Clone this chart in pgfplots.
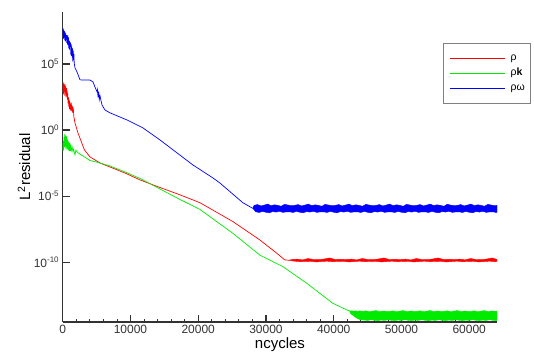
\documentclass[border=0pt]{standalone}
\usepackage{fontspec}
\setmainfont{Liberation Sans}
\usepackage{pgfplots}
\pgfplotsset{compat=1.18}
\definecolor{cred}{RGB}{255,0,0}
\definecolor{cgreen}{RGB}{0,235,0}
\definecolor{cblue}{RGB}{0,0,255}
\begin{document}
\begin{tikzpicture}
\path[use as bounding box] (0,0) rectangle (534pt,352pt);
\begin{axis}[
  at={(62.7pt,30pt)}, anchor=south west,
  scale only axis, width=434.5pt, height=310pt,
  xmin=0, xmax=64130,
  ymode=log, ymin=3.0e-15, ymax=8.5e8,
  axis x line*=bottom, axis y line*=left,
  axis line style={-, line width=1.4pt, black!80},
  tick align=inside,
  major tick length=7pt, minor tick length=3.5pt,
  every major tick/.style={black!80, line width=1.2pt},
  every minor tick/.style={black!80, line width=0.8pt},
  scaled x ticks=false,
  xtick={0,10000,20000,30000,40000,50000,60000},
  xticklabels={0,10000,20000,30000,40000,50000,60000},
  minor x tick num=4,
  ytick={1e-10,1e-5,1,1e5},
  yticklabels={10\textsuperscript{-10},10\textsuperscript{-5},10\textsuperscript{0},10\textsuperscript{5}},
  yminorticks=false,
  ticklabel style={font=\fontsize{12}{14}\selectfont, text=black!80},
  xlabel={ncycles}, ylabel={L\textsuperscript{2}residual},
  label style={font=\fontsize{15}{18}\selectfont},
  x label style={at={(axis description cs:0.5,-0.072)}, anchor=center},
  y label style={at={(axis description cs:-0.089,0.5)}, anchor=center},
  legend style={at={(0.8746,0.9)}, anchor=north west, draw=black!50, line width=1pt, fill=white,
    font=\fontsize{10.5}{12}\selectfont, inner xsep=6pt, inner ysep=10.5pt, row sep=5.5pt,
    cells={anchor=west}, nodes={inner sep=0pt, text height=7pt, text depth=2.5pt},
    /tikz/every odd column/.append style={column sep=5pt}},
]
% rho
\addplot[draw=cred, line width=0.7pt,
  legend image code/.code={\draw[cred, line width=0.7pt] (0pt,0pt) -- (55.7pt,0pt);}] coordinates {
(0,1e3) (50,3e3) (100,5e2) (150,4e3) (200,8e2) (250,2.5e3) (300,4e2) (350,3e3) (400,6e2) (450,2e3) (500,3e2) (550,1.5e3) (600,4e2) (650,1e3) (700,2e2) (750,6e2) (800,1e2) (850,3e2) (900,60) (950,2e2) (1000,40) (1050,1.5e2) (1100,30) (1150,1e2) (1200,35) (1250,1.2e2) (1300,30) (1350,80) (1400,25) (1450,60) (1500,20) (1550,50) (1650,10) (1813,3.5) (2255,0.6) (3198,3.2e-2) (4024,9.3e-3) (5499,3.2e-3) (6972,1.6e-3) (9183,5.6e-4) (11394,1.7e-4) (14342,4.5e-5) (17290,1.26e-5) (20239,3.2e-6) (25103,1.2e-7) (29083,4.9e-9) (31589,4.8e-10) (32768,1.5e-10) (33400,1.4e-10)
};
\addlegendentry{ρ}
% rho k
\addplot[draw=cgreen, line width=0.7pt,
  legend image code/.code={\draw[cgreen, line width=0.7pt] (0pt,0pt) -- (55.7pt,0pt);}] coordinates {
(0,0.1) (50,2.5e-2) (100,0.15) (150,3e-2) (200,0.3) (250,5e-2) (300,0.5) (350,6e-2) (400,0.4) (450,4e-2) (500,0.3) (550,5e-2) (600,0.35) (650,3e-2) (700,0.2) (750,4e-2) (800,0.15) (850,3e-2) (900,0.12) (950,2.5e-2) (1000,0.1) (1050,2.5e-2) (1100,8e-2) (1150,2.5e-2) (1200,6e-2) (1300,3e-2) (1400,5e-2) (1500,2.5e-2) (1600,3.5e-2) (1813,1.3e-2) (1950,3e-2) (2255,1.9e-2) (3198,9.3e-3) (4024,5e-3) (5499,3.2e-3) (6972,1.9e-3) (9183,6.8e-4) (11394,2.2e-4) (14342,3.5e-5) (17290,5.6e-6) (20239,1e-6) (25103,1.55e-8) (29083,3.5e-10) (32473,4.7e-11) (35999,2.6e-12) (39831,8e-14) (41895,2.5e-14) (42337,2.1e-14)
};
\addlegendentry{ρ\textbf{k}}
% rho omega
\addplot[draw=cblue, line width=0.7pt,
  legend image code/.code={\draw[cblue, line width=0.7pt] (0pt,0pt) -- (55.7pt,0pt);}] coordinates {
(0,2e7) (50,5e7) (100,8e6) (150,4e7) (200,1e7) (250,3e7) (300,6e6) (350,2.5e7) (400,5e6) (450,2e7) (500,7e6) (550,1.5e7) (600,4e6) (650,1.2e7) (700,3e6) (750,1.5e7) (800,2.5e6) (850,1e7) (900,1.5e6) (950,6e6) (1000,1.2e6) (1050,5e6) (1100,2e6) (1150,4e6) (1200,5e5) (1250,3e6) (1300,4e5) (1350,2e6) (1400,3e5) (1450,1.5e6) (1500,1.5e5) (1550,1e6) (1600,2e5) (1650,6e5) (1700,1.2e5) (1813,5e4) (2108,2.5e4) (2550,6.3e3) (3000,6e3) (3500,6.2e3) (4024,6e3) (4467,4.4e3) (4762,1.8e3) (5056,8e2) (5150,1.2e3) (5204,3e2) (5300,8e2) (5400,2e2) (5499,4e2) (5794,80) (6235,33) (6972,20) (9478,5.8) (11836,1.45) (14342,0.18) (16848,1.9e-2) (19206,2.3e-3) (22154,2.4e-4) (23186,1e-4) (26576,3.2e-6) (27608,1.6e-6) (28050,1.2e-6)
};
\addlegendentry{ρω}
% converged noise bands: upper envelope left to right, lower envelope right to left
\addplot[fill=cblue, draw=cblue, line width=0.4pt, forget plot] coordinates {
(28050,1.2e-6)
(28250,2.0e-6) (28750,2.3e-6) (29250,1.8e-6) (29750,2.1e-6) (30250,2.5e-6) (30750,1.9e-6) (31250,2.2e-6) (31750,2.0e-6)
(32250,1.7e-6) (32750,2.4e-6) (33250,2.1e-6) (33750,1.9e-6) (34250,2.0e-6) (34750,2.3e-6) (35250,1.8e-6) (35750,2.1e-6)
(36250,2.5e-6) (36750,1.9e-6) (37250,2.2e-6) (37750,2.0e-6) (38250,1.7e-6) (38750,2.4e-6) (39250,2.1e-6) (39750,1.9e-6)
(40250,2.0e-6) (40750,2.3e-6) (41250,1.8e-6) (41750,2.1e-6) (42250,2.5e-6) (42750,1.9e-6) (43250,2.2e-6) (43750,2.0e-6)
(44250,1.7e-6) (44750,2.4e-6) (45250,2.1e-6) (45750,1.9e-6) (46250,2.0e-6) (46750,2.3e-6) (47250,1.8e-6) (47750,2.1e-6)
(48250,2.5e-6) (48750,1.9e-6) (49250,2.2e-6) (49750,2.0e-6) (50250,1.7e-6) (50750,2.4e-6) (51250,2.1e-6) (51750,1.9e-6)
(52250,2.0e-6) (52750,2.3e-6) (53250,1.8e-6) (53750,2.1e-6) (54250,2.5e-6) (54750,1.9e-6) (55250,2.2e-6) (55750,2.0e-6)
(56250,1.7e-6) (56750,2.4e-6) (57250,2.1e-6) (57750,1.9e-6) (58250,2.0e-6) (58750,2.3e-6) (59250,1.8e-6) (59750,2.1e-6)
(60250,2.5e-6) (60750,1.9e-6) (61250,2.2e-6) (61750,2.0e-6) (62250,1.7e-6) (62750,2.4e-6) (63250,2.1e-6) (63750,1.9e-6) (64100,2.0e-6)
(64100,6.0e-7) (64000,5.8e-7) (63500,6.5e-7) (63000,6.4e-7) (62500,5.9e-7) (62000,7.2e-7) (61500,6.2e-7) (61000,6.8e-7) (60500,5.5e-7)
(60000,6.0e-7) (59500,7.0e-7) (59000,5.8e-7) (58500,6.5e-7) (58000,6.4e-7) (57500,5.9e-7) (57000,7.2e-7) (56500,6.2e-7)
(56000,6.8e-7) (55500,5.5e-7) (55000,6.0e-7) (54500,7.0e-7) (54000,5.8e-7) (53500,6.5e-7) (53000,6.4e-7) (52500,5.9e-7)
(52000,7.2e-7) (51500,6.2e-7) (51000,6.8e-7) (50500,5.5e-7) (50000,6.0e-7) (49500,7.0e-7) (49000,5.8e-7) (48500,6.5e-7)
(48000,6.4e-7) (47500,5.9e-7) (47000,7.2e-7) (46500,6.2e-7) (46000,6.8e-7) (45500,5.5e-7) (45000,6.0e-7) (44500,7.0e-7)
(44000,5.8e-7) (43500,6.5e-7) (43000,6.4e-7) (42500,5.9e-7) (42000,7.2e-7) (41500,6.2e-7) (41000,6.8e-7) (40500,5.5e-7)
(40000,6.0e-7) (39500,7.0e-7) (39000,5.8e-7) (38500,6.5e-7) (38000,6.4e-7) (37500,5.9e-7) (37000,7.2e-7) (36500,6.2e-7)
(36000,6.8e-7) (35500,5.5e-7) (35000,6.0e-7) (34500,7.0e-7) (34000,5.8e-7) (33500,6.5e-7) (33000,6.4e-7) (32500,5.9e-7)
(32000,7.2e-7) (31500,6.2e-7) (31000,6.8e-7) (30500,5.5e-7) (30000,6.0e-7) (29500,7.0e-7) (29000,5.8e-7) (28500,6.5e-7)
(28050,1.2e-6)
};
\addplot[fill=cred, draw=cred, line width=0.4pt, forget plot] coordinates {
(33400,1.4e-10)
(33800,1.6e-10) (34600,1.7e-10) (35400,1.5e-10) (36200,1.9e-10) (37000,1.6e-10) (37800,1.55e-10) (38600,1.75e-10) (39400,2.1e-10)
(40200,1.6e-10) (41000,1.65e-10) (41800,1.6e-10) (42600,1.7e-10) (43400,1.5e-10) (44200,1.9e-10) (45000,1.6e-10) (45800,1.55e-10)
(46600,1.75e-10) (47400,2.1e-10) (48200,1.6e-10) (49000,1.65e-10) (49800,1.6e-10) (50600,1.7e-10) (51400,1.5e-10) (52200,1.9e-10)
(53000,1.6e-10) (53800,1.55e-10) (54600,1.75e-10) (55400,2.1e-10) (56200,1.6e-10) (57000,1.65e-10) (57800,1.6e-10) (58600,1.7e-10)
(59400,1.5e-10) (60200,1.9e-10) (61000,1.6e-10) (61800,1.55e-10) (62600,1.75e-10) (63400,2.1e-10) (64100,1.6e-10)
(64100,1.15e-10) (63800,1.1e-10) (63000,1.2e-10) (62200,1.12e-10) (61400,1.05e-10) (60600,1.18e-10) (59800,1.15e-10) (59000,1.1e-10)
(58200,1.2e-10) (57400,1.12e-10) (56600,1.05e-10) (55800,1.18e-10) (55000,1.15e-10) (54200,1.1e-10) (53400,1.2e-10) (52600,1.12e-10)
(51800,1.05e-10) (51000,1.18e-10) (50200,1.15e-10) (49400,1.1e-10) (48600,1.2e-10) (47800,1.12e-10) (47000,1.05e-10) (46200,1.18e-10)
(45400,1.15e-10) (44600,1.1e-10) (43800,1.2e-10) (43000,1.12e-10) (42200,1.05e-10) (41400,1.18e-10) (40600,1.15e-10) (39800,1.1e-10)
(39000,1.2e-10) (38200,1.12e-10) (37400,1.05e-10) (36600,1.18e-10) (35800,1.15e-10) (35000,1.1e-10) (34200,1.2e-10)
(33400,1.4e-10)
};
\addplot[fill=cgreen, draw=cgreen, line width=0.4pt, forget plot] coordinates {
(42337,2.1e-14) (42650,2.1e-14) (42950,2.0e-14) (43250,2.1e-14) (43550,1.9e-14) (43850,2.1e-14)
(44250,1.9e-14) (44750,2.1e-14) (45250,1.8e-14) (45750,2.0e-14) (46250,2.2e-14) (46750,1.85e-14) (47250,2.0e-14) (47750,1.95e-14)
(48250,1.9e-14) (48750,2.1e-14) (49250,1.8e-14) (49750,2.0e-14) (50250,2.2e-14) (50750,1.85e-14) (51250,2.0e-14) (51750,1.95e-14)
(52250,1.9e-14) (52750,2.1e-14) (53250,1.8e-14) (53750,2.0e-14) (54250,2.2e-14) (54750,1.85e-14) (55250,2.0e-14) (55750,1.95e-14)
(56250,1.9e-14) (56750,2.1e-14) (57250,1.8e-14) (57750,2.0e-14) (58250,2.2e-14) (58750,1.85e-14) (59250,2.0e-14) (59750,1.95e-14)
(60250,1.9e-14) (60750,2.1e-14) (61250,1.8e-14) (61750,2.0e-14) (62250,2.2e-14) (62750,1.85e-14) (63250,2.0e-14) (63750,1.95e-14) (64100,2.0e-14)
(64100,3.9e-15) (64000,3.8e-15) (63500,4.0e-15) (63000,4.5e-15) (62500,3.9e-15) (62000,4.2e-15) (61500,3.8e-15) (61000,4.0e-15) (60500,4.5e-15)
(60000,3.9e-15) (59500,4.2e-15) (59000,3.8e-15) (58500,4.0e-15) (58000,4.5e-15) (57500,3.9e-15) (57000,4.2e-15) (56500,3.8e-15)
(56000,4.0e-15) (55500,4.5e-15) (55000,3.9e-15) (54500,4.2e-15) (54000,3.8e-15) (53500,4.0e-15) (53000,4.5e-15) (52500,3.9e-15)
(52000,4.2e-15) (51500,3.8e-15) (51000,4.0e-15) (50500,4.5e-15) (50000,3.9e-15) (49500,4.2e-15) (49000,3.8e-15) (48500,4.0e-15)
(48000,4.5e-15) (47500,3.9e-15) (47000,4.2e-15) (46500,3.8e-15) (46000,4.0e-15) (45500,4.5e-15) (45000,3.9e-15) (44500,4.2e-15)
(44000,4.3e-15) (43700,5e-15) (43400,6e-15) (43100,7.5e-15) (42800,1.0e-14) (42500,1.3e-14)
(42337,2.1e-14)
};
\end{axis}
\end{tikzpicture}
\end{document}
